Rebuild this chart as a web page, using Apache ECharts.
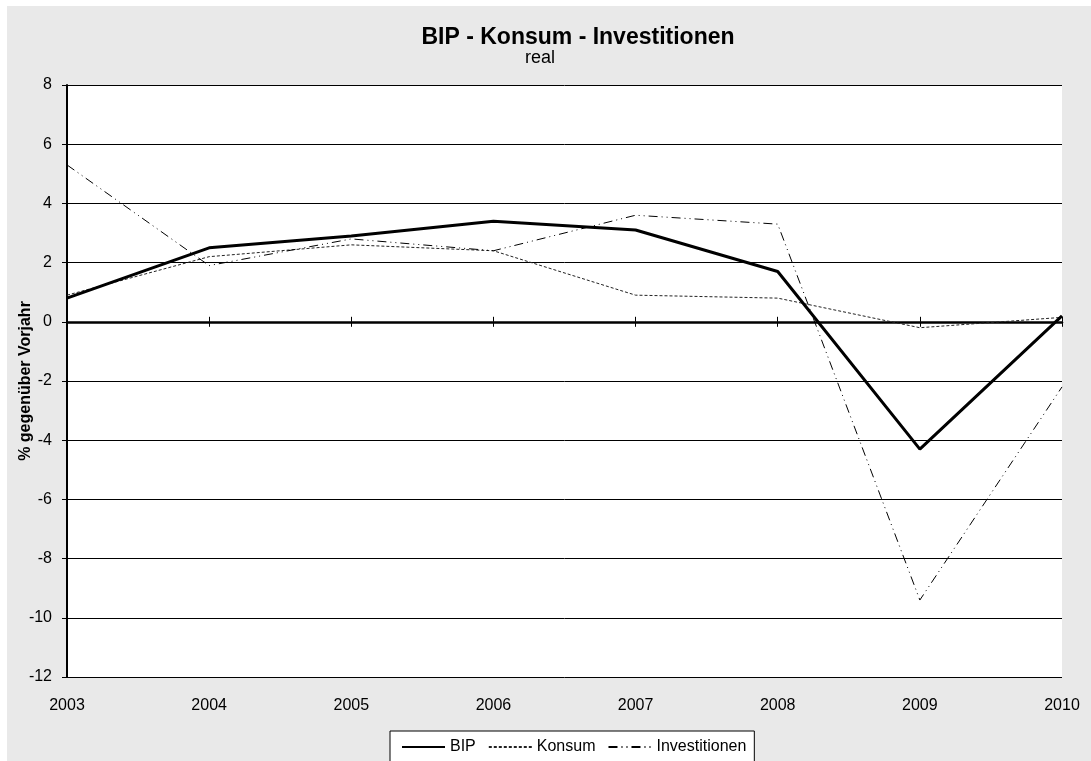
<!DOCTYPE html>
<html>
<head>
<meta charset="utf-8">
<script src="https://cdn.jsdelivr.net/npm/echarts@6/dist/echarts.min.js"></script>
<style>
  html, body { margin: 0; padding: 0; background: #fff; }
  #chart { width: 1091px; height: 761px; }
</style>
</head>
<body>
<div id="chart"></div>
<script>
// Jahre und Veränderungsraten (% gegenüber Vorjahr, real)
const years = ['2003', '2004', '2005', '2006', '2007', '2008', '2009', '2010'];
const bip = [0.8, 2.5, 2.9, 3.4, 3.1, 1.7, -4.3, 0.2];
const konsum = [0.9, 2.2, 2.6, 2.4, 0.9, 0.8, -0.2, 0.15];
const investitionen = [5.3, 1.9, 2.8, 2.4, 3.6, 3.3, -9.4, -2.2];
const yTicks = { min: -12, max: 8, interval: 2 };

const FONT = '"Liberation Sans", Arial, sans-serif';
const chart = echarts.init(document.getElementById('chart'), null, { renderer: 'canvas' });

chart.setOption({
  backgroundColor: '#ffffff',
  animation: false,
  textStyle: { fontFamily: FONT, color: '#000' },
  graphic: [
    { type: 'rect', z: -10, silent: true,
      shape: { x: 7, y: 6, width: 1084, height: 755 },
      style: { fill: '#e9e9e9' } },
    { type: 'text', z: 10, x: 26, y: 381, rotation: Math.PI / 2,
      style: { text: '% gegenüber Vorjahr', font: 'bold 16px ' + FONT,
               fill: '#000', align: 'center', verticalAlign: 'middle' } }
  ],
  title: [
    { text: 'BIP - Konsum - Investitionen', left: 573, top: 21, textAlign: 'center',
      textStyle: { fontFamily: FONT, fontWeight: 'bold', fontSize: 23, color: '#000' } },
    { text: 'real', left: 535, top: 44, textAlign: 'center',
      textStyle: { fontFamily: FONT, fontWeight: 'normal', fontSize: 18, color: '#000' } }
  ],
  legend: {
    left: 390, top: 731,
    orient: 'horizontal',
    itemWidth: 43, itemHeight: 14, itemGap: 12,
    padding: [8, 8, 8, 11],
    backgroundColor: '#fff',
    borderColor: '#000', borderWidth: 1,
    itemStyle: { opacity: 0 },
    textStyle: { fontFamily: FONT, fontSize: 16, color: '#000' },
    data: ['BIP', 'Konsum', 'Investitionen']
  },
  grid: {
    left: 67, right: 29, top: 85, bottom: 84,
    show: true, backgroundColor: '#fff', borderWidth: 0
  },
  xAxis: [
    { // Nulllinie mit Teilstrichen nach oben
      type: 'category', data: years, boundaryGap: false, position: 'bottom',
      axisLine: { onZero: true, onZeroAxisIndex: 0, lineStyle: { color: '#000', width: 2.5 } },
      axisTick: { show: true, inside: true, length: 5, lineStyle: { color: '#000', width: 1 } },
      axisLabel: { show: false }, splitLine: { show: false }
    },
    { // Teilstriche nach unten
      type: 'category', data: years, boundaryGap: false, position: 'bottom',
      axisLine: { show: false, onZero: true, onZeroAxisIndex: 1 },
      axisTick: { show: true, inside: false, length: 5, lineStyle: { color: '#000', width: 1 } },
      axisLabel: { show: false }, splitLine: { show: false }
    },
    { // Jahresbeschriftung am unteren Rand
      type: 'category', data: years, boundaryGap: false, position: 'bottom',
      axisLine: { show: false, onZero: false },
      axisTick: { show: false },
      axisLabel: { show: true, margin: 21, fontFamily: FONT, fontSize: 16, color: '#000' },
      splitLine: { show: false }
    }
  ],
  yAxis: [
    {
      type: 'value', min: yTicks.min, max: yTicks.max, interval: yTicks.interval,
      axisLine: { show: true, onZero: false, lineStyle: { color: '#000', width: 2 } },
      axisTick: { show: true, inside: false, length: 5, lineStyle: { color: '#000', width: 1 } },
      axisLabel: { margin: 15, fontFamily: FONT, fontSize: 16, color: '#000' },
      splitLine: { show: true, lineStyle: { color: '#000', width: 1 } }
    },
    {
      type: 'value', min: yTicks.min, max: yTicks.max, interval: yTicks.interval, show: false
    }
  ],
  series: [
    { name: 'BIP', type: 'line', data: bip, xAxisIndex: 0, yAxisIndex: 0,
      symbol: 'none', z: 5,
      lineStyle: { color: '#000', width: 3, type: 'solid' },
      itemStyle: { color: '#000' } },
    { name: 'Konsum', type: 'line', data: konsum, xAxisIndex: 0, yAxisIndex: 0,
      symbol: 'none', z: 4,
      lineStyle: { color: '#222', width: 1, type: [3, 2] },
      itemStyle: { color: '#222' } },
    { name: 'Investitionen', type: 'line', data: investitionen, xAxisIndex: 0, yAxisIndex: 0,
      symbol: 'none', z: 4,
      lineStyle: { color: '#000', width: 1, type: [9, 4, 1, 4, 1, 4] },
      itemStyle: { color: '#000' } }
  ]
});
</script>
</body>
</html>
